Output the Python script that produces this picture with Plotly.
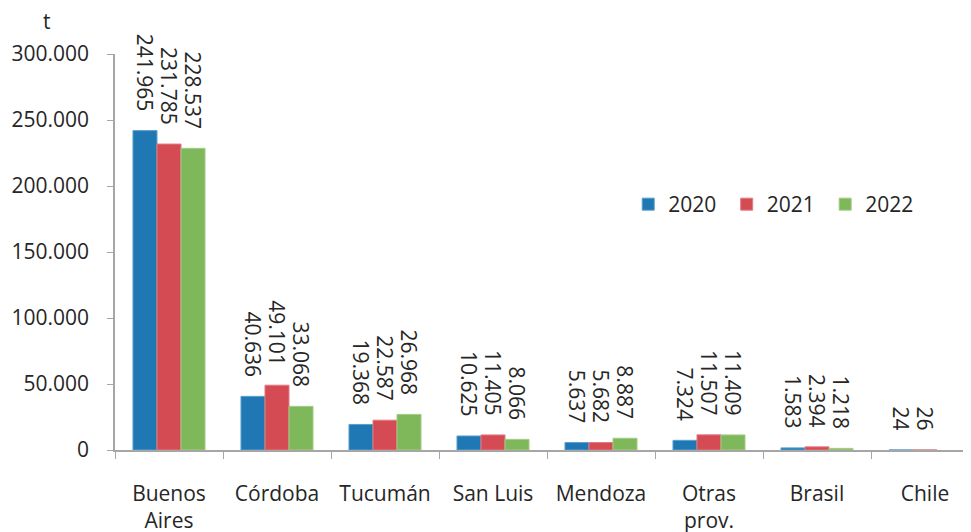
import plotly.graph_objects as go

categories = ["Buenos<br>Aires", "Córdoba", "Tucumán", "San Luis", "Mendoza", "Otras<br>prov.", "Brasil", "Chile"]
years = ["2020", "2021", "2022"]
v2020 = [241965, 40636, 19368, 10625, 5637, 7324, 1583, 24]
v2021 = [231785, 49101, 22587, 11405, 5682, 11507, 2394, 26]
v2022 = [228537, 33068, 26968, 8066, 8887, 11409, 1218, None]
series = [v2020, v2021, v2022]
colors = ["#1f78b4", "#d54b53", "#7fb75b"]
edge = ["#5a9fcc", "#e07c82", "#a3cc86"]

FONT = "Open Sans"
TXT = "#262626"
FS = 21

fig = go.Figure()
for name, vals, c, e in zip(years, series, colors, edge):
    fig.add_trace(go.Bar(
        name=name + "\u00a0", x=categories, y=vals,
        marker=dict(color=c, line=dict(color=e, width=1)),
        text=[("" if v is None else f"{v:,}".replace(",", ".") + "\u00a0\u00a0\u00a0") for v in vals],
        textposition="outside", textangle=90, constraintext="none",
        textfont=dict(family=FONT, size=FS, color=TXT),
        cliponaxis=False,
    ))

fig.update_layout(
    width=971, height=532,
    margin=dict(l=107, r=0, t=46, b=90, autoexpand=False),
    paper_bgcolor="white", plot_bgcolor="white",
    barmode="group", bargap=0.333, bargroupgap=0,
    separators=",.",
    font=dict(family=FONT, size=FS, color=TXT),
    showlegend=True,
    legend=dict(orientation="h", x=0.594, y=0.62, xanchor="left", yanchor="middle",
                font=dict(family=FONT, size=FS, color=TXT), bgcolor="rgba(0,0,0,0)",
                itemwidth=30, traceorder="normal"),
    annotations=[dict(text="t", xref="paper", yref="paper", x=-0.0787, y=1.083,
                      xanchor="center", yanchor="middle", showarrow=False,
                      font=dict(family=FONT, size=FS, color=TXT))],
)
fig.update_yaxes(range=[0, 300000], tickvals=[0, 50000, 100000, 150000, 200000, 250000, 300000],
                 tickformat=",d", showgrid=False, zeroline=False, showline=True,
                 linecolor="#a6a6a6", linewidth=1.5, ticks="outside", ticklen=6,
                 tickcolor="#a6a6a6", ticklabelstandoff=14, automargin=False,
                 tickfont=dict(family=FONT, size=FS, color=TXT))
fig.update_xaxes(showgrid=False, showline=True, linecolor="#a6a6a6", linewidth=1.5,
                 ticks="outside", ticklen=7, tickcolor="#a6a6a6", tickson="boundaries",
                 ticklabelstandoff=24, automargin=False,
                 tickfont=dict(family=FONT, size=FS, color=TXT))

fig.write_html("out.html")
